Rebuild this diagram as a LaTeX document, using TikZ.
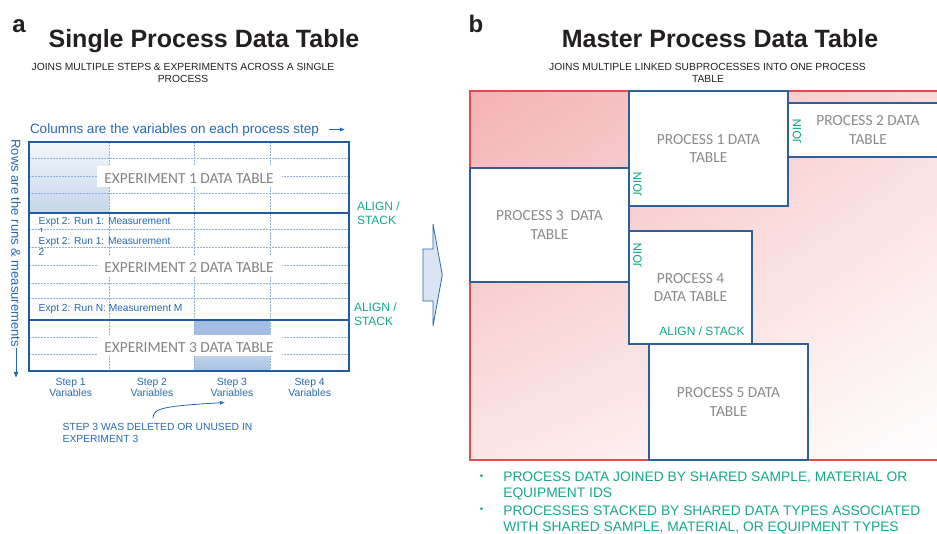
\documentclass[tikz,border=0pt]{standalone}
\usepackage{fontspec}
\setmainfont{Liberation Sans}
\newfontfamily\calib{Carlito}
\usetikzlibrary{arrows.meta,calc,shadings}
\definecolor{tblue}{HTML}{1F5B9E}
\definecolor{dashc}{HTML}{8FB2D9}
\definecolor{txtblue}{HTML}{2568B3}
\definecolor{tgreen}{HTML}{14A889}
\definecolor{tgray}{HTML}{8A8A8A}
\definecolor{redc}{HTML}{E64A4F}
\definecolor{pinkA}{HTML}{F4B2B4}
\definecolor{pinkB}{HTML}{FADCDD}
\definecolor{pinkC}{HTML}{FBE6E7}
\definecolor{pblue}{HTML}{2D5F9A}
\definecolor{arrfill}{HTML}{D9E5F3}
\definecolor{arrline}{HTML}{2E6AAB}
\definecolor{ink}{HTML}{231F20}
\definecolor{cAtop}{HTML}{F3F7FB}
\definecolor{cAbot}{HTML}{C5D6EC}
\definecolor{cBtop}{HTML}{A3BEE1}
\definecolor{cCtop}{HTML}{BFD2EA}
\definecolor{cCbot}{HTML}{A8C1E3}
\tikzset{
  every node/.style={inner sep=0pt, outer sep=0pt},
  paneltag/.style={anchor=base, font=\fontsize{24}{24}\selectfont\bfseries, text=ink},
  maintitle/.style={anchor=base, font=\fontsize{25}{25}\selectfont\bfseries, text=ink},
  subtitle/.style={anchor=base, font=\fontsize{10.3}{10.3}\selectfont, text=ink},
  bluetxt/.style={font=\fontsize{13.5}{13.5}\selectfont, text=txtblue},
  dl/.style={draw=dashc, line width=0.6pt, dash pattern=on 2pt off 1pt},
  blk/.style={draw=tblue, line width=1.8pt},
  exptxt/.style={anchor=base, fill=white, font=\calib\fontsize{15.4}{15.4}\selectfont, text=tgray!95!black,
     minimum width=185pt, text height=17pt, text depth=4pt},
  runtxt/.style={anchor=base west, font=\fontsize{10.2}{10.2}\selectfont, text=txtblue},
  steplbl/.style={anchor=base, font=\fontsize{10.4}{10.4}\selectfont, text=txtblue},
  greentxt/.style={font=\fontsize{12}{12}\selectfont, text=tgreen},
  pbox/.style={anchor=north west, draw=pblue, fill=white, line width=1.2pt, align=center,
     font=\calib\fontsize{15.4}{18.4}\selectfont, text=tgray},
  jointxt/.style={rotate=90, font=\calib\fontsize{13}{13}\selectfont, text=tgreen},
  bullettxt/.style={anchor=base west, font=\fontsize{13.8}{13.8}\selectfont, text=tgreen},
  bulletdot/.style={anchor=base, font=\fontsize{10}{10}\selectfont, text=tgreen},
}
\begin{document}
\begin{tikzpicture}[x=1pt,y=-1pt]
\useasboundingbox (0,0) rectangle (937,534);
\clip (0,0) rectangle (937,534);

% ---------------- panel a ----------------
\node[paneltag] (la) at (19,33) {a};
\node[maintitle] (ta) at (204,48) {Single Process Data Table};
\node[subtitle] (sa1) at (183,71) {JOINS MULTIPLE STEPS \& EXPERIMENTS ACROSS A SINGLE};
\node[subtitle] (sa2) at (183,82.7) {PROCESS};

\node[bluetxt, anchor=base west] (cols) at (30,133.3) {Columns are the variables on each process step};
\coordinate (colsb) at (329,129.5);
\coordinate (colsa) at (345,129.5);
\draw[txtblue, line width=1pt, -{Latex[length=5pt,width=4.5pt]}] (colsb) -- (colsa);

\node[font=\fontsize{13}{13}\selectfont, text=txtblue, rotate=-90, anchor=west] (rows) at (16,139.5) {Rows are the runs \& measurements};
\coordinate (rowsend) at (16,378);
\draw[txtblue, line width=0.9pt, -{Latex[length=6pt,width=5pt]}] ($(rows.east)+(0,1.5)$) -- (rowsend);

% shadings
\shade[top color=cAtop, bottom color=cAbot] (29,142) rectangle (109,213);
\fill[cBtop] (194,320) rectangle (270,335);
\shade[top color=cCtop, bottom color=cCbot] (194,356) rectangle (270,371);

% dashed grid
\foreach \xx in {109,194,270} \draw[dl] (\xx,142) -- (\xx,371);
\foreach \yy in {158,176,193,229,247,265,283,298,337,354} \draw[dl] (29,\yy) -- (349,\yy);

% texts in the table
\node[exptxt] (e1) at (189,183.3) {EXPERIMENT 1 DATA TABLE};
\node[exptxt] (e2) at (189,272.7) {EXPERIMENT 2 DATA TABLE};
\node[exptxt] (e3) at (189,352.3) {EXPERIMENT 3 DATA TABLE};

\node[runtxt] (r1) at (38.7,225) {Expt 2: Run 1: Measurement};
\begin{scope}
  \clip (36,224) rectangle (46,231.5);
  \node[runtxt, text depth=0pt] (r1b) at (38.7,235.6) {1};
\end{scope}
\node[runtxt] (r2) at (38.7,244.3) {Expt 2: Run 1: Measurement};
\node[runtxt] (r2b) at (38.7,255.7) {2};
\node[runtxt] (rn) at (38.7,311.7) {Expt 2: Run N: Measurement M};

% block borders
\draw[blk] (29,142) rectangle (349,213);
\draw[blk] (29,213) rectangle (349,320);
\draw[blk] (29,320) rectangle (349,371);

% step labels
\node[steplbl] (s1a) at (70.7,385.3) {Step 1};
\node[steplbl] (s1b) at (70.7,396.7) {Variables};
\node[steplbl] (s2a) at (152,385.3) {Step 2};
\node[steplbl] (s2b) at (152,396.7) {Variables};
\node[steplbl] (s3a) at (232,385.3) {Step 3};
\node[steplbl] (s3b) at (232,396.7) {Variables};
\node[steplbl] (s4a) at (309.7,385.3) {Step 4};
\node[steplbl] (s4b) at (309.7,396.7) {Variables};

\node[runtxt, font=\fontsize{10.3}{10.3}\selectfont] (n1) at (62.7,430) {STEP 3 WAS DELETED OR UNUSED IN};
\node[runtxt, font=\fontsize{10.3}{10.3}\selectfont] (n2) at (62.7,442.3) {EXPERIMENT 3};
\coordinate (nstart) at (153,418);
\coordinate (nend) at (225,402.5);
\draw[txtblue, line width=0.8pt, -{Latex[length=5pt,width=4pt]}] (nstart) .. controls (153,408) and (165,406) .. (nend);

\node[greentxt, anchor=base west] (al1) at (357,211) {ALIGN /};
\node[greentxt, anchor=base west] (al2) at (357,225) {STACK};
\node[greentxt, anchor=base west] (al3) at (354,311.7) {ALIGN /};
\node[greentxt, anchor=base west] (al4) at (354,326) {STACK};

% block arrow between panels
\draw[fill=arrfill, draw=arrline, line width=0.8pt, line join=miter]
  (423,249) -- (433,249) -- (433,224) -- (442.3,275) -- (433,326) -- (433,301) -- (423,301) -- cycle;

% ---------------- panel b ----------------
\node[paneltag] (lb) at (476,33) {b};
\node[maintitle] (tb) at (720,48) {Master Process Data Table};
\node[subtitle] (sb1) at (707.5,71) {JOINS MULTIPLE LINKED SUBPROCESSES INTO ONE PROCESS};
\node[subtitle] (sb2) at (708,82.7) {TABLE};

\shade[upper left=pinkA, upper right=pinkB, lower left=pinkC, lower right=white] (470,91) rectangle (950,460);
\draw[redc, line width=1.2pt] (950,91) -- (470,91) -- (470,460) -- (950,460);

\node[pbox, minimum width=159pt, minimum height=115pt] (p1) at (629,91) {PROCESS 1 DATA\\TABLE};
\node[pbox, minimum width=160pt, minimum height=54pt] (p2) at (788,103) {PROCESS 2 DATA\\TABLE};
\node[pbox, minimum width=159pt, minimum height=114pt] (p3) at (470,168) {PROCESS 3\ \ DATA\\TABLE};
\node[pbox, minimum width=123pt, minimum height=113pt] (p4) at (629,231) {PROCESS 4\\DATA TABLE};
\node[pbox, minimum width=159pt, minimum height=116pt] (p5) at (649,344) {PROCESS 5 DATA\\TABLE};

\node[jointxt] (j1) at (797,131.5) {JOIN};
\node[jointxt] (j2) at (637.5,184) {JOIN};
\node[jointxt] (j3) at (637.5,255.5) {JOIN};
\node[greentxt, anchor=base] (alb) at (702,335.7) {ALIGN / STACK};

\node[bulletdot] (bu1) at (481.7,479) {•};
\node[bullettxt] (bt1) at (503.3,481.7) {PROCESS DATA JOINED BY SHARED SAMPLE, MATERIAL OR};
\node[bullettxt] (bt2) at (503.3,497.7) {EQUIPMENT IDS};
\node[bulletdot] (bu2) at (481.7,512.3) {•};
\node[bullettxt] (bt3) at (503.3,515) {PROCESSES STACKED BY SHARED DATA TYPES ASSOCIATED};
\node[bullettxt] (bt4) at (503.3,531.7) {WITH SHARED SAMPLE, MATERIAL, OR EQUIPMENT TYPES};
\end{tikzpicture}
\end{document}
